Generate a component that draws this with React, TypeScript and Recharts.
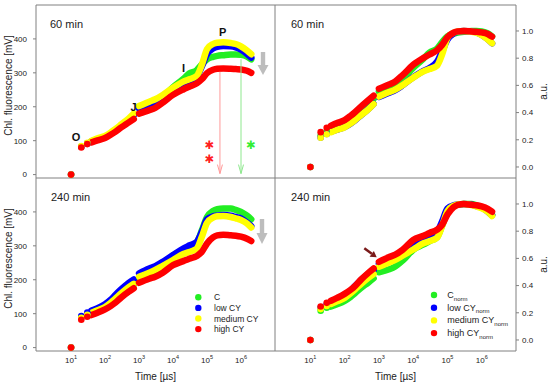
import React from "react";
import { ComposedChart, Line, Scatter, XAxis, YAxis, ReferenceLine } from "recharts";

// sampling times of the OJIP transients [µs]; first 3 are single points, then 2 continuous runs
const TIME_US = [
  10, 20, 30,
  40, 60, 100, 150, 200, 300, 500, 700,
  1000, 2000, 3000, 5000, 10000, 20000, 30000, 50000, 70000, 100000, 150000, 200000, 300000,
  500000, 700000, 1000000, 1500000, 2000000,
];
const X_TICKS = [10, 100, 1000, 10000, 100000, 1000000];
const X_TICK_EXP = ["1", "2", "3", "4", "5", "6"];
const MV_TICKS = [0, 100, 200, 300, 400];
const AU_TICKS = [0, 0.2, 0.4, 0.6, 0.8, 1.0];
const X_DOMAIN: [number, number] = [0.93, 1e7];
const MV_DOMAIN: [number, number] = [-10, 500];
const AU_DOMAIN: [number, number] = [-0.081, 1.191];

// 60 min, raw [mV]
const C_60 = [0, 82, 92, 98, 104, 111, 121, 130, 144, 162, 177, 196, 208, 216, 230, 258, 282, 298, 308, 325, 340, 347, 350, 352, 354, 354, 353, 348, 340];
const LOW_60 = [0, 82, 92, 98, 104, 111, 121, 130, 144, 162, 176, 195, 207, 214, 228, 250, 268, 276, 288, 318, 355, 372, 377, 379, 378, 375, 368, 356, 345];
const MED_60 = [0, 84, 94, 100, 107, 114, 125, 134, 148, 166, 180, 202, 215, 222, 235, 256, 274, 281, 291, 323, 370, 385, 389, 390, 388, 385, 378, 366, 355];
const HIGH_60 = [0, 80, 90, 95, 101, 108, 118, 126, 139, 154, 164, 180, 190, 197, 212, 235, 251, 259, 269, 281, 299, 309, 312, 313, 312, 311, 310, 306, 300];

// 60 min, normalised [a.u.]
const C_60_NORM = [0, 0.232, 0.26, 0.277, 0.294, 0.314, 0.342, 0.367, 0.407, 0.458, 0.5, 0.554, 0.588, 0.61, 0.65, 0.729, 0.797, 0.842, 0.87, 0.918, 0.96, 0.98, 0.989, 0.994, 1.0, 1.0, 0.997, 0.983, 0.96];
const LOW_60_NORM = [0, 0.216, 0.243, 0.259, 0.274, 0.293, 0.319, 0.343, 0.38, 0.427, 0.464, 0.515, 0.546, 0.565, 0.602, 0.66, 0.707, 0.728, 0.775, 0.85, 0.937, 0.982, 0.995, 1.0, 0.997, 0.989, 0.971, 0.939, 0.91];
const MED_60_NORM = [0, 0.215, 0.241, 0.256, 0.274, 0.292, 0.32, 0.344, 0.38, 0.426, 0.462, 0.518, 0.551, 0.569, 0.603, 0.656, 0.703, 0.72, 0.746, 0.828, 0.949, 0.987, 0.997, 1.0, 0.995, 0.987, 0.969, 0.938, 0.91];
const HIGH_60_NORM = [0, 0.256, 0.288, 0.304, 0.323, 0.345, 0.377, 0.403, 0.444, 0.492, 0.524, 0.575, 0.607, 0.629, 0.677, 0.751, 0.802, 0.827, 0.859, 0.898, 0.955, 0.987, 0.997, 1.0, 0.997, 0.994, 0.99, 0.978, 0.958];

// 240 min, raw [mV]
const C_240 = [0, 88, 97, 101, 108, 118, 130, 141, 157, 174, 186, 204, 213, 222, 240, 272, 288, 298, 310, 345, 385, 403, 408, 410, 410, 406, 400, 389, 378];
const LOW_240 = [0, 93, 103, 109, 116, 128, 142, 155, 172, 191, 201, 219, 233, 240, 253, 273, 292, 301, 312, 341, 378, 387, 389, 391, 389, 385, 381, 369, 358];
const MED_240 = [0, 88, 97, 103, 110, 120, 133, 144, 160, 178, 188, 209, 221, 229, 241, 258, 276, 282, 292, 326, 368, 383, 387, 388, 385, 381, 376, 366, 354];
const HIGH_240 = [0, 82, 91, 96, 103, 113, 123, 132, 148, 165, 175, 191, 203, 209, 221, 243, 255, 262, 270, 282, 307, 325, 331, 333, 331, 330, 327, 321, 314];

// 240 min, normalised [a.u.]
const C_240_NORM = [0, 0.215, 0.237, 0.246, 0.263, 0.288, 0.317, 0.344, 0.383, 0.424, 0.454, 0.498, 0.52, 0.541, 0.585, 0.663, 0.702, 0.727, 0.756, 0.841, 0.939, 0.983, 0.995, 1.0, 1.0, 0.99, 0.976, 0.949, 0.922];
const LOW_240_NORM = [0, 0.238, 0.263, 0.279, 0.297, 0.327, 0.363, 0.396, 0.44, 0.488, 0.514, 0.56, 0.596, 0.614, 0.647, 0.698, 0.747, 0.77, 0.798, 0.872, 0.967, 0.99, 0.995, 1.0, 0.995, 0.985, 0.974, 0.944, 0.916];
const MED_240_NORM = [0, 0.227, 0.25, 0.265, 0.284, 0.309, 0.343, 0.371, 0.412, 0.459, 0.485, 0.539, 0.57, 0.59, 0.621, 0.665, 0.711, 0.727, 0.753, 0.84, 0.948, 0.987, 0.997, 1.0, 0.992, 0.982, 0.969, 0.943, 0.912];
const HIGH_240_NORM = [0, 0.246, 0.273, 0.288, 0.309, 0.339, 0.369, 0.396, 0.444, 0.495, 0.526, 0.574, 0.61, 0.628, 0.664, 0.735, 0.766, 0.787, 0.811, 0.847, 0.922, 0.976, 0.994, 1.0, 0.994, 0.991, 0.982, 0.964, 0.943];

const SERIES_NAMES = ["C", "low CY", "medium CY", "high CY"];
const COLORS = ["#22ee22", "#0000ff", "#ffff00", "#ff0000"];

const FONT = '"Liberation Sans", Arial, sans-serif';
const AXIS = "#808080";
const TEXT = "#222";

function split(values: number[]) {
  const rows = TIME_US.map((t, i) => ({ t, v: values[i] }));
  return { dots: rows.slice(0, 3), seg1: rows.slice(3, 11), seg2: rows.slice(11) };
}

const PowTick = (props: any) => {
  const { x, y, payload } = props;
  const exp = X_TICK_EXP[X_TICKS.indexOf(payload.value)];
  return (
    <text x={x} y={y} textAnchor="middle" fontSize={8} fill={TEXT} fontFamily={FONT}>
      <tspan dy="0.71em">10</tspan>
      <tspan dy={-3.5} fontSize={5.5}>{exp}</tspan>
    </text>
  );
};

const YTitle = (props: any) => {
  const { viewBox, value, dx } = props;
  const cx = viewBox.x + dx;
  const cy = viewBox.y + viewBox.height / 2 - (value === "a.u." ? 0 : 6);
  return (
    <text x={cx} y={cy} transform={`rotate(-90 ${cx} ${cy})`} textAnchor="middle"
      dominantBaseline="central" fontSize={10} fill={TEXT} fontFamily={FONT}>
      {value}
    </text>
  );
};

const DownArrow = (props: any) => {
  const { x1, y1, x2, y2, stroke } = props;
  return (
    <g>
      <line x1={x1} y1={y1} x2={x2} y2={y2} stroke={stroke} strokeWidth={1} />
      <polyline points={`${x2 - 2.5},${y2 - 9} ${x2},${y2} ${x2 + 2.5},${y2 - 9}`} fill="none" stroke={stroke} strokeWidth={1} />
    </g>
  );
};

type PanelProps = {
  left: number;
  top: number;
  norm: boolean;
  bottom: boolean;
  data: number[][];
  children?: React.ReactNode;
};

function Panel({ left, top, norm, bottom, data, children }: PanelProps) {
  const width = norm ? 275 : 276;
  const height = bottom ? 211 : 179;
  const margin = { top: 5, right: norm ? 0 : 1, bottom: bottom ? 0 : 1, left: 0 };
  const yDomain = norm ? AU_DOMAIN : MV_DOMAIN;
  return (
    <div style={{ position: "absolute", left, top }}>
      <ComposedChart width={width} height={height} margin={margin}>
        <XAxis dataKey="t" type="number" scale="log" domain={X_DOMAIN} ticks={X_TICKS} interval={0}
          allowDataOverflow mirror height={6} tick={false} tickSize={3}
          tickLine={{ stroke: AXIS }} axisLine={{ stroke: AXIS }} />
        {bottom && (
          <XAxis xAxisId="lab" dataKey="t" type="number" scale="log" domain={X_DOMAIN} ticks={X_TICKS}
            interval={0} allowDataOverflow height={33} tick={(p: any) => <PowTick {...p} />} tickLine={false}
            axisLine={false} tickSize={3} tickMargin={3}
            label={{ value: "Time [µs]", position: "insideBottom", offset: 4, fontSize: 10, fill: TEXT, fontFamily: FONT }} />
        )}
        {norm ? (
          <YAxis dataKey="v" orientation="right" type="number" domain={yDomain} ticks={AU_TICKS}
            interval={0} allowDataOverflow width={34} tickSize={3} tickMargin={3}
            tickFormatter={(v: number) => v.toFixed(1)}
            tick={{ fontSize: 8, fill: TEXT, fontFamily: FONT }}
            tickLine={{ stroke: AXIS }} axisLine={{ stroke: AXIS }}
            label={<YTitle value="a.u." dx={27} />} />
        ) : (
          <YAxis dataKey="v" type="number" domain={yDomain} ticks={MV_TICKS}
            interval={0} allowDataOverflow width={36} tickSize={3} tickMargin={6}
            tick={{ fontSize: 8, fill: TEXT, fontFamily: FONT }}
            tickLine={{ stroke: AXIS }} axisLine={{ stroke: AXIS }}
            label={<YTitle value="Chl. fluorescence [mV]" dx={8} />} />
        )}
        {!bottom && <ReferenceLine y={yDomain[1]} stroke={AXIS} ifOverflow="visible" />}
        {!norm && <ReferenceLine x={X_DOMAIN[1]} stroke={AXIS} ifOverflow="visible" />}
        {data.map((values, si) => {
          const { dots, seg1, seg2 } = split(values);
          const color = COLORS[si];
          return (
            <React.Fragment key={SERIES_NAMES[si]}>
              {[seg1, seg2].map((seg, k) => (
                <Line key={k} data={seg} dataKey="v" type="monotone" stroke={color} strokeWidth={6.5}
                  strokeLinecap="round" strokeLinejoin="round" dot={false} activeDot={false}
                  isAnimationActive={false} legendType="none" />
              ))}
              <Scatter data={dots} dataKey="v" fill={color} isAnimationActive={false} legendType="none"
                shape={(p: any) => <circle cx={p.cx} cy={p.cy} r={3.3} fill={color} />} />
            </React.Fragment>
          );
        })}
        {children}
      </ComposedChart>
    </div>
  );
}

function LegendBlock({ x, y, step, norm }: { x: number; y: number; step: number; norm: boolean }) {
  return (
    <g fontFamily={FONT} fontSize={norm ? 9 : 8.5} fill={TEXT}>
      {SERIES_NAMES.map((name, i) => (
        <g key={name}>
          <circle cx={x} cy={y + i * step} r={3.2} fill={COLORS[i]} />
          <text x={x + (norm ? 13.3 : 15.7)} y={y + i * step + 3}>
            {name}
            {norm && <tspan fontSize={6} dy={2.5}>norm</tspan>}
          </text>
        </g>
      ))}
    </g>
  );
}

function GreyArrow({ x, top, head, tip }: { x: number; top: number; head: number; tip: number }) {
  return (
    <path d={`M${x - 2.2},${top} L${x + 2.2},${top} L${x + 2.2},${head} L${x + 5.5},${head} L${x},${tip} L${x - 5.5},${head} L${x - 2.2},${head} Z`}
      fill="#bdbdbd" />
  );
}

export default function App() {
  return (
    <div style={{ position: "absolute", left: 0, top: 0, width: 550, height: 384, background: "#fff", fontFamily: FONT }}>
      <Panel left={0} top={0} norm={false} bottom={false} data={[C_60, LOW_60, MED_60, HIGH_60]}>
        <ReferenceLine segment={[{ x: 240000, y: 303 }, { x: 240000, y: 3 }]} stroke="#ff9a9a"
          ifOverflow="visible" shape={(p: any) => <DownArrow {...p} stroke="#ff9a9a" />} />
        <ReferenceLine segment={[{ x: 1000000, y: 340 }, { x: 1000000, y: 3 }]} stroke="#8ee88e"
          ifOverflow="visible" shape={(p: any) => <DownArrow {...p} stroke="#8ee88e" />} />
      </Panel>
      <Panel left={275} top={0} norm bottom={false} data={[C_60_NORM, LOW_60_NORM, MED_60_NORM, HIGH_60_NORM]} />
      <Panel left={0} top={173} norm={false} bottom data={[C_240, LOW_240, MED_240, HIGH_240]} />
      <Panel left={275} top={173} norm bottom data={[C_240_NORM, LOW_240_NORM, MED_240_NORM, HIGH_240_NORM]} />

      <svg width={550} height={384} style={{ position: "absolute", left: 0, top: 0, pointerEvents: "none" }}>
        <g fontFamily={FONT} fontSize={11} fill={TEXT}>
          <text x={50} y={28}>60 min</text>
          <text x={291} y={28}>60 min</text>
          <text x={51} y={201}>240 min</text>
          <text x={291} y={201}>240 min</text>
        </g>
        <g fontFamily={FONT} fontSize={11} fontWeight="bold" fill="#111" textAnchor="middle">
          <text x={76} y={141}>O</text>
          <text x={133.5} y={111}>J</text>
          <text x={183.5} y={72}>I</text>
          <text x={222.7} y={35.5}>P</text>
        </g>
        <g fontFamily='"DejaVu Sans", sans-serif' fontSize={11.5} textAnchor="middle">
          <text x={209.3} y={148.5} fill="#ff2020">✱</text>
          <text x={209.3} y={162.5} fill="#ff2020">✱</text>
          <text x={250.7} y={148.5} fill="#33ee33">✱</text>
        </g>
        <GreyArrow x={263} top={52} head={65} tip={75} />
        <GreyArrow x={262} top={219} head={233} tip={244} />
        <line x1={364.3} y1={248.3} x2={371.8} y2={253.8} stroke="#7a1a1a" strokeWidth={2.5} />
        <polygon points="376.7,257.3 369.6,256.7 373.9,250.9" fill="#7a1a1a" />
        <LegendBlock x={198.3} y={297.3} step={10.6} norm={false} />
        <LegendBlock x={434} y={295} step={12.7} norm />
      </svg>
    </div>
  );
}
